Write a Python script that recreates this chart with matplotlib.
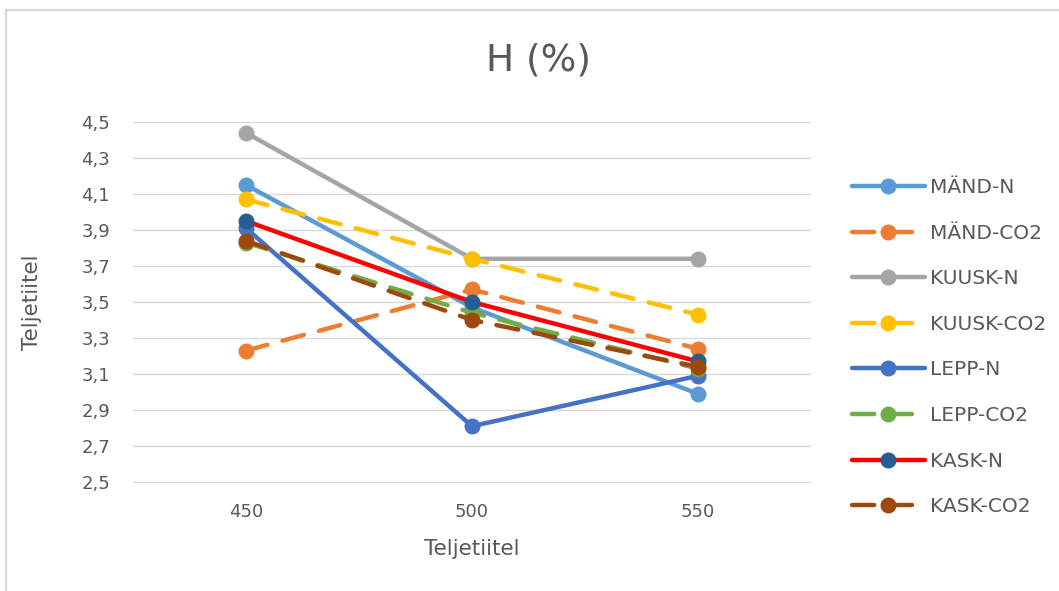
import numpy as np
import matplotlib.pyplot as plt
from matplotlib.ticker import FuncFormatter
from matplotlib.lines import Line2D

plt.rcParams['font.family'] = ['DejaVu Sans']

temps = [450, 500, 550]
labels = ['MÄND-N', 'MÄND-CO2', 'KUUSK-N', 'KUUSK-CO2', 'LEPP-N', 'LEPP-CO2', 'KASK-N', 'KASK-CO2']

mand_n = [4.15, 3.47, 2.99]
mand_co2 = [3.23, 3.57, 3.24]
kuusk_n = [4.44, 3.74, 3.74]
kuusk_co2 = [4.07, 3.74, 3.43]
lepp_n = [3.91, 2.81, 3.09]
lepp_co2 = [3.83, 3.44, 3.13]
kask_n = [3.95, 3.50, 3.17]
kask_co2 = [3.84, 3.40, 3.14]

series = [mand_n, mand_co2, kuusk_n, kuusk_co2, lepp_n, lepp_co2, kask_n, kask_co2]
line_colors = ['#5B9BD5', '#ED7D31', '#A5A5A5', '#FFC000', '#4472C4', '#70AD47', '#FF0000', '#9E480E']
marker_colors = ['#5B9BD5', '#ED7D31', '#A5A5A5', '#FFC000', '#4472C4', '#70AD47', '#255E91', '#9E480E']
dashed = [False, True, False, True, False, True, False, True]

W, H = 1059, 591
fig = plt.figure(figsize=(W / 100, H / 100), dpi=100)

# chart area frame (only top and left edges fall inside the image)
fig.add_artist(Line2D([6 / W, 1], [1 - 10 / H, 1 - 10 / H], transform=fig.transFigure,
                      color='#D9D9D9', linewidth=1.6))
fig.add_artist(Line2D([6 / W, 6 / W], [0, 1 - 10 / H], transform=fig.transFigure,
                      color='#D9D9D9', linewidth=1.6))

ax = fig.add_axes([133 / W, 1 - 482 / H, (811 - 133) / W, (482 - 122) / H])

for vals, lab, lc, mc, d in zip(series, labels, line_colors, marker_colors, dashed):
    ax.plot(temps, vals, color=lc, linewidth=3.2, linestyle=(0, (5, 3.5)) if d else '-',
            marker='o', markersize=10.5, markerfacecolor=mc, markeredgecolor=mc,
            label=lab, solid_capstyle='round', dash_capstyle='round')

ax.set_xlim(425, 575)
ax.set_ylim(2.5, 4.5)
ax.set_xticks(temps)
ax.set_yticks(np.arange(2.5, 4.51, 0.2))
ax.yaxis.set_major_formatter(FuncFormatter(lambda v, p: f'{v:.1f}'.replace('.', ',')))
ax.grid(axis='y', color='#D9D9D9', linewidth=1)
ax.set_axisbelow(True)
for s in ['top', 'right', 'left']:
    ax.spines[s].set_visible(False)
ax.spines['bottom'].set_color('#D9D9D9')
ax.tick_params(length=0, labelsize=13, colors='#595959')
ax.tick_params(axis='x', pad=15)
ax.tick_params(axis='y', pad=16.5)

ax.set_xlabel('Teljetiitel', fontsize=15.5, color='#595959', labelpad=13)
ax.set_ylabel('Teljetiitel', fontsize=15.5, color='#595959', labelpad=28)
fig.text(538 / W, 1 - 60 / H, 'H (%)', fontsize=27, color='#595959', ha='center', va='center')

ax.legend(loc='upper left', bbox_to_anchor=(834 / W, 1 - 160 / H), bbox_transform=fig.transFigure,
          frameon=False, fontsize=14.5, labelcolor='#595959', handlelength=3.6,
          labelspacing=1.32, handletextpad=0.25)

fig.savefig('out.png', dpi=100)
